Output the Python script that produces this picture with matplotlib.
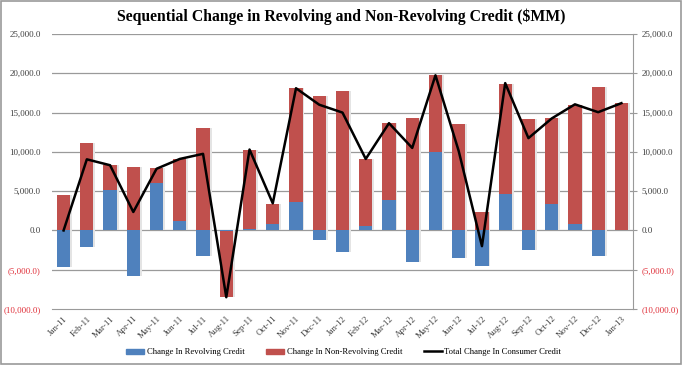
import matplotlib
matplotlib.use("Agg")
import matplotlib.pyplot as plt
from matplotlib.lines import Line2D
from matplotlib.patches import Patch
import numpy as np

months = ["Jan-11", "Feb-11", "Mar-11", "Apr-11", "May-11", "Jun-11", "Jul-11",
          "Aug-11", "Sep-11", "Oct-11", "Nov-11", "Dec-11", "Jan-12", "Feb-12",
          "Mar-12", "Apr-12", "May-12", "Jun-12", "Jul-12", "Aug-12", "Sep-12",
          "Oct-12", "Nov-12", "Dec-12", "Jan-13"]
revolving = [-4700, -2050, 5200, -5800, 6000, 1250, -3300, -100, 200, 800,
             3600, -1200, -2800, 550, 3900, -4000, 9950, -3500, -4500, 4650,
             -2550, 3400, 800, -3250, 50]
non_revolving = [4550, 11100, 3100, 8100, 1900, 7900, 13000, -8400, 10050, 2600,
                 14500, 17150, 17750, 8550, 9750, 14350, 9850, 13600, 2400, 14050,
                 14200, 10900, 15200, 18200, 16150]
total = [0, 9050, 8300, 2350, 7850, 9100, 9750, -8500, 10300, 3450,
         18100, 16000, 15000, 9100, 13650, 10500, 19750, 10100, -2000, 18750,
         11750, 14250, 16050, 15050, 16200]
yticks = [-10000, -5000, 0, 5000, 10000, 15000, 20000, 25000]

BLUE = "#4F81BD"
RED = "#C0504D"
SERIF = "Liberation Serif"

fig = plt.figure(figsize=(6.82, 3.65), dpi=100)
ax = fig.add_axes([0.0762, 0.1534, 0.852, 0.7534])

x = np.arange(len(months))
rev = np.array(revolving)
nrev = np.array(non_revolving)
# Excel stacking: positives stack up, negatives stack down
rev_base = np.zeros(len(x))
nrev_base = np.where(np.sign(nrev) == np.sign(rev), rev, 0)
w = 0.57

# soft shadow
ax.bar(x + 0.08, rev, w, bottom=rev_base, color="#e4e4e4", zorder=1)
ax.bar(x + 0.08, nrev, w, bottom=nrev_base, color="#e4e4e4", zorder=1)
ax.bar(x, rev, w, bottom=rev_base, color=BLUE, zorder=2)
ax.bar(x, nrev, w, bottom=nrev_base, color=RED, zorder=2)
ax.plot(x, total, color="black", lw=1.8, zorder=3)

ax.set_xlim(-0.5, len(months) - 0.5)
ax.set_ylim(-10000, 25000)
ax.set_yticks(yticks)
for yv in yticks[1:]:
    ax.axhline(yv, color="#9a9a9a", lw=0.9, zorder=0)

def fmt(v):
    return f"({abs(v):,.1f})" if v < 0 else f"{v:,.1f}"

labels = [fmt(v) for v in yticks]
ax.set_yticklabels(labels, fontsize=6.5, family=SERIF)
ax.tick_params(axis="y", length=0, pad=8)
ax.set_xticks(x)
ax.set_xticklabels(months, rotation=45, ha="right", va="top",
                   rotation_mode="anchor", fontsize=6.5, family=SERIF)
ax.tick_params(axis="x", length=0, pad=4)

for s in ["top", "left", "right"]:
    ax.spines[s].set_visible(False)
ax.spines["bottom"].set_color("#9a9a9a")

ax2 = ax.twinx()
ax2.set_ylim(ax.get_ylim())
ax2.set_yticks(yticks)
ax2.set_yticklabels(labels, fontsize=6.5, family=SERIF)
ax2.tick_params(axis="y", length=3, color="#9a9a9a", pad=3)
for s in ["top", "left", "bottom"]:
    ax2.spines[s].set_visible(False)
ax2.spines["right"].set_color("#9a9a9a")

for a in (ax, ax2):
    for lab, v in zip(a.get_yticklabels(), yticks):
        lab.set_color("#E0303A" if v < 0 else "#404040")
for lab in ax.get_xticklabels():
    lab.set_color("#404040")

fig.text(0.5, 0.955, "Sequential Change in Revolving and Non-Revolving Credit ($MM)",
         ha="center", va="center", fontsize=11.3, fontweight="bold", family=SERIF)

handles = [Patch(color=BLUE), Patch(color=RED), Line2D([0], [0], color="black", lw=1.8)]
fig.legend(handles, ["Change In Revolving Credit", "Change In Non-Revolving Credit",
                     "Total Change In Consumer Credit"],
           loc="center", bbox_to_anchor=(0.504, 0.035), ncol=3, frameon=False,
           prop={"family": SERIF, "size": 6.2}, handlelength=2.1, handleheight=0.55,
           columnspacing=2.5, handletextpad=0.3)

fig.patches.append(plt.Rectangle((0.001, 0.002), 0.997, 0.995, transform=fig.transFigure,
                                 fill=False, edgecolor="#9a9a9a", lw=1.2))

fig.savefig("out.png", dpi=100)
